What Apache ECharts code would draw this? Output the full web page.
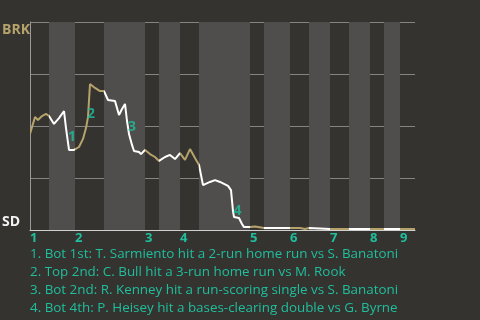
<!DOCTYPE html>
<html><head><meta charset="utf-8">
<script src="https://cdn.jsdelivr.net/npm/echarts@6/dist/echarts.min.js"></script>
<style>html,body{margin:0;padding:0;background:#353330;}#c{width:480px;height:320px;}</style>
</head><body><div id="c"></div>
<script>
// half-inning start positions (game progress units), last value = end of game
const halfStarts = [0, 3.8, 9, 14.8, 23, 25.8, 30, 33.8, 44, 46.8, 52, 55.8, 60, 63.8, 68, 70.8, 74, 77];
const innings = ['1','2','3','4','5','6','7','8','9'];
const inningStarts = [0, 9, 23, 30, 44, 52, 60, 68, 74];
// win probability line (BRK win %)
const progress = [0,1,1.6,2.4,3.2,3.8, 4.8,5.8,6.8,7.2,7.8,8.8,9, 9.8,10.6,11.2,11.6,12,13,14,14.8,
  15.6,17,17.8,18.4,19,19.4,19.8,20.4,20.8,21.8,22.2,23, 24,25,25.8, 27,28,29,30, 31,32,33,33.8,
  34.6,35,36,37,38,39.6,40.2,40.6,40.8,41.8,42.4,42.8,44, 45,45.2,46.8, 52, 54,54.2,55,55.2,55.8,
  56.2,60,63.8,68,70.8,74,77];
const brkWinPct = [46.2,54.3,52.9,54.8,55.8,54.8, 51.0,53.8,57.2,49.0,38.5,38.5,38.5, 39.9,43.8,49.0,54.3,70.2,68.3,66.8,66.8,
  62.5,62.0,55.3,58.2,60.6,52.4,46.2,40.9,38.0,37.5,36.5,38.5, 36.5,35.1,33.2, 35.1,36.1,34.1,37.0, 33.7,38.9,34.6,31.3,
  21.6,21.2,23.1,24.0,23.1,21.2,19.2,9.1,6.2,5.8,2.9,1.4,1.4, 1.7,1.0,1.0, 1.0, 1.0,0.5,0.5,1.0,1.0,
  0.5,0.5,0.5,0.5,0.5,0.5,0.5];
// key event markers
const eventIds = ['1','2','3','4'];
const eventX = [8.4, 12.2, 20.4, 41.5];
const eventY = [44.5, 55.8, 49.5, 9.3];
const eventNotes = [
  '1. Bot 1st: T. Sarmiento hit a 2-run home run vs S. Banatoni',
  '2. Top 2nd: C. Bull hit a 3-run home run vs M. Rook',
  '3. Bot 2nd: R. Kenney hit a run-scoring single vs S. Banatoni',
  '4. Bot 4th: P. Heisey hit a bases-clearing double vs G. Byrne'
];
const awayTeam = 'BRK', homeTeam = 'SD';

const GOLD = '#b5a36b', WHITE = '#ffffff', TEAL = '#1fbf9c', BAND = '#4f4e4c';
const FONT = 'Open Sans';

const pieces = [];
const bands = [];
for (let i = 0; i < halfStarts.length - 1; i++) {
  pieces.push({gte: halfStarts[i], lt: i === halfStarts.length - 2 ? 1000 : halfStarts[i+1], color: i % 2 === 0 ? GOLD : WHITE});
  if (i % 2 === 1) bands.push([{xAxis: halfStarts[i]}, {xAxis: halfStarts[i+1]}]);
}

const chart = echarts.init(document.getElementById('c'), null, {renderer: 'canvas'});
chart.setOption({
  backgroundColor: '#353330',
  animation: false,
  grid: {left: 30, right: 65, top: 22, bottom: 90},
  xAxis: {
    type: 'value', min: 0, max: halfStarts[halfStarts.length - 1],
    axisLine: {show: true, lineStyle: {color: '#cfcfcf', width: 1}},
    axisTick: {show: false},
    splitLine: {show: false},
    axisLabel: {
      customValues: inningStarts,
      formatter: v => innings[inningStarts.indexOf(v)],
      color: TEAL, fontWeight: 'bold', fontSize: 13, fontFamily: FONT, align: 'left', margin: 2
    }
  },
  yAxis: {
    type: 'value', min: 0, max: 100, interval: 25,
    axisLine: {show: true, lineStyle: {color: '#9a9a98'}},
    axisTick: {show: false},
    axisLabel: {show: false},
    splitLine: {show: true, lineStyle: {color: '#858482', width: 1}}
  },
  visualMap: {type: 'piecewise', show: false, dimension: 0, seriesIndex: 0, pieces: pieces},
  series: [
    {
      type: 'line', data: progress.map((x, i) => [x, brkWinPct[i]]),
      showSymbol: false, lineStyle: {width: 2}, z: 3
    },
    {
      type: 'scatter', symbolSize: 0, z: 4,
      data: eventIds.map((id, i) => ({value: [eventX[i], eventY[i]], name: id})),
      label: {show: true, position: 'inside', formatter: p => p.name, color: TEAL, fontWeight: 'bold', fontSize: 14, fontFamily: FONT},
      markArea: {silent: true, itemStyle: {color: BAND}, data: bands}
    }
  ],
  graphic: [
    {type: 'text', left: 2, top: 23, style: {text: awayTeam, fill: GOLD, font: 'bold 14px "Open Sans"'}},
    {type: 'text', left: 2, top: 215, style: {text: homeTeam, fill: '#f2f2f2', font: 'bold 14px "Open Sans"'}}
  ].concat(eventNotes.map((t, i) => ({
    type: 'text', left: 30, top: 248 + i * 18, style: {text: t, fill: TEAL, font: '13.4px "Open Sans"'}
  })))
});
</script></body></html>
